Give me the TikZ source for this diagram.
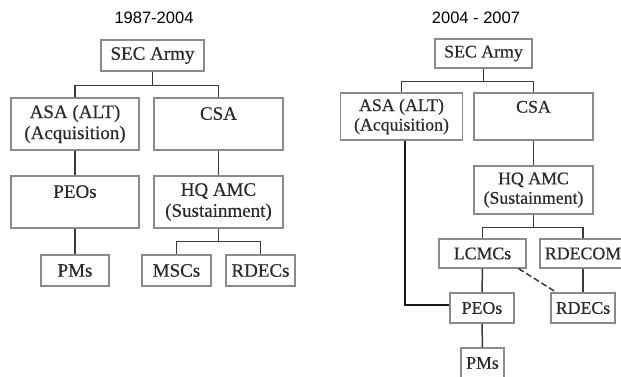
\documentclass[tikz,border=0pt]{standalone}
\usepackage{fontspec}
\setmainfont{Liberation Serif}
\newfontfamily\boxfont{Liberation Serif}[FakeBold=0.4]
\newfontfamily\titlefont{Liberation Sans}
\definecolor{txt}{HTML}{2A2A2A}
\definecolor{boxline}{HTML}{8A8A8A}
\definecolor{conn}{HTML}{3A3A3A}
\begin{document}
\begin{tikzpicture}[x=1pt,y=-1pt,
  box/.style={draw=boxline,line width=1.1pt,fill=white,text=txt,inner sep=0pt,align=center,
    font=\boxfont\fontsize{19}{21}\selectfont},
  boxr/.style={box,font=\boxfont\fontsize{17.8}{19.5}\selectfont},
  ttl/.style={text=black,font=\titlefont\fontsize{16.5}{19}\selectfont,inner sep=0pt},
  conline/.style={draw=conn,line width=1.5pt},
  heavy/.style={draw=black!90,line width=1.8pt}]
\useasboundingbox[fill=white] (0,0) rectangle (621,377);

% ---------- left panel ----------
\node[ttl] (titleL) at (154,18) {1987-2004};
\node[box,minimum width=103pt,minimum height=31pt] (secL) at (152.5,55.5) {SEC Army};
\node[box,minimum width=128pt,minimum height=52pt] (asaL) at (75,124) {ASA (ALT)\\(Acquisition)};
\node[box,minimum width=129pt,minimum height=52pt] (csaL) at (218.5,124) {CSA\\\phantom{X}};
\node[box,minimum width=128pt,minimum height=52pt] (peoL) at (75,202) {PEOs\\\phantom{X}};
\node[box,minimum width=129pt,minimum height=52pt] (hqL) at (218.5,202) {HQ AMC\\(Sustainment)};
\node[box,minimum width=68pt,minimum height=31pt] (pmL) at (75,270.5) {PMs};
\node[box,minimum width=69pt,minimum height=31pt] (mscL) at (176.5,270.5) {MSCs};
\node[box,minimum width=69pt,minimum height=31pt] (rdecL) at (260.5,270.5) {RDECs};

\draw[conline] (secL.south) -- ++(0,14) coordinate (busL1);
\draw[conline] (busL1) -| (asaL.north);
\draw[conline] (busL1) -| (csaL.north);
\draw[conline] (asaL.south) -- (peoL.north);
\draw[conline] (csaL.south) -- (hqL.north);
\draw[conline] (peoL.south) -- (pmL.north);
\draw[conline] (hqL.south) -- ++(0,13) coordinate (busL2);
\draw[conline] (busL2) -| (mscL.north);
\draw[conline] (busL2) -| (rdecL.north);

% ---------- right panel ----------
\node[ttl] (titleR) at (476,18) {2004 - 2007};
\node[boxr,minimum width=97pt,minimum height=29pt] (secR) at (483.5,53.5) {SEC Army};
\node[boxr,minimum width=122pt,minimum height=47pt] (asaR) at (401.5,116.5) {ASA (ALT)\\(Acquisition)};
\node[boxr,minimum width=119pt,minimum height=47pt] (csaR) at (533.5,116.5) {CSA\\\phantom{X}};
\node[boxr,minimum width=119pt,minimum height=48pt] (hqR) at (533.5,190) {HQ AMC\\(Sustainment)};
\node[boxr,minimum width=87pt,minimum height=29pt] (lcmcR) at (482.5,253.5) {LCMCs};
\node[boxr,minimum width=86pt,minimum height=29pt] (rdecomR) at (583,253.5) {RDECOM};
\node[boxr,minimum width=64pt,minimum height=30pt] (peoR) at (482,308) {PEOs};
\node[boxr,minimum width=64pt,minimum height=30pt] (rdecR) at (583,308) {RDECs};
\node[boxr,minimum width=43pt,minimum height=30pt] (pmR) at (482.5,363) {PMs};

\draw[conline] (secR.south) -- ++(0,13) coordinate (busR1);
\draw[conline] (busR1) -| (asaR.north);
\draw[conline] (busR1) -| (csaR.north);
\draw[conline] (csaR.south) -- (hqR.north);
\draw[conline] (hqR.south) -- ++(0,13) coordinate (busR2);
\draw[conline] (busR2) -| (lcmcR.north);
\draw[conline] (busR2) -| (rdecomR.north);
\draw[conline] (lcmcR.south) -- (peoR.north);
\draw[conline] (rdecomR.south) -- (rdecR.north);
\draw[conline] (peoR.south) -- (pmR.north);
\draw[heavy] ([xshift=3.5pt]asaR.south) |- ([yshift=3pt]peoR.west);
\draw[conline,dash pattern=on 6pt off 3pt] ([xshift=-8pt]lcmcR.south east) -- ([xshift=6pt]rdecR.north west);
\end{tikzpicture}
\end{document}
